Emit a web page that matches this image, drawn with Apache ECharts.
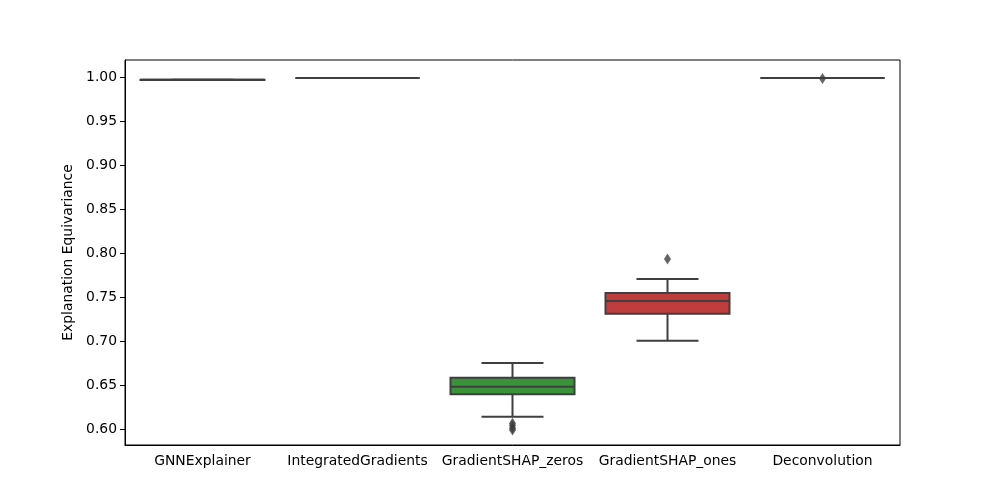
<!DOCTYPE html>
<html>
<head>
<meta charset="utf-8">
<script src="https://cdn.jsdelivr.net/npm/echarts@6/dist/echarts.min.js"></script>
<style>html,body{margin:0;padding:0;background:#fff}#c{width:1000px;height:500px}</style>
</head>
<body>
<div id="c"></div>
<script>
const categories = ['GNNExplainer', 'IntegratedGradients', 'GradientSHAP_zeros', 'GradientSHAP_ones', 'Deconvolution'];
const whiskerLow  = [0.9971, 0.9993, 0.6143, 0.7007, 0.9993];
const q1Values    = [0.9971, 0.9993, 0.6398, 0.7314, 0.9993];
const medians     = [0.9972, 0.9993, 0.6484, 0.7458, 0.9993];
const q3Values    = [0.9972, 0.9993, 0.6586, 0.7549, 0.9993];
const whiskerHigh = [0.9972, 0.9993, 0.6753, 0.7708, 0.9993];
const boxColors   = ['#3274a1', '#e1812c', '#3a923a', '#c03d3e', '#9372b2'];
const outlierCats = [2, 2, 2, 2, 3, 4];
const outlierVals = [0.6068, 0.6045, 0.6015, 0.5992, 0.7935, 0.9988];
const yTicks = [0.60, 0.65, 0.70, 0.75, 0.80, 0.85, 0.90, 0.95, 1.00];

const boxData = categories.map((c, i) => [i, whiskerLow[i], q1Values[i], medians[i], q3Values[i], whiskerHigh[i]]);
const outlierData = outlierCats.map((c, i) => [c, outlierVals[i]]);
const edge = '#3f3f3f';

const chart = echarts.init(document.getElementById('c'));
chart.setOption({
  animation: false,
  grid: { left: 125, right: 100, top: 60, bottom: 55, show: true, borderColor: '#000', borderWidth: 1, backgroundColor: 'transparent' },
  xAxis: {
    type: 'category', data: categories, boundaryGap: true,
    axisLine: { lineStyle: { color: '#000', width: 1 } },
    axisTick: { alignWithLabel: true, length: 5, lineStyle: { color: '#000' } },
    axisLabel: { interval: 0, hideOverlap: false, color: '#000', fontFamily: 'DejaVu Sans', fontSize: 13.9, margin: 9 },
    splitLine: { show: false }
  },
  yAxis: {
    type: 'value', min: 0.5822, max: 1.0197,
    name: 'Explanation Equivariance', nameLocation: 'middle', nameGap: 48, nameRotate: 90,
    nameTextStyle: { color: '#000', fontFamily: 'DejaVu Sans', fontSize: 13.9 },
    axisLine: { show: true, lineStyle: { color: '#000', width: 1 } },
    axisTick: { show: true, length: 5, customValues: yTicks, lineStyle: { color: '#000' } },
    axisLabel: { color: '#000', fontFamily: 'DejaVu Sans', fontSize: 13.9, margin: 8, customValues: yTicks, formatter: v => v.toFixed(2) },
    splitLine: { show: false }
  },
  series: [
    {
      type: 'custom',
      data: boxData,
      renderItem: function (params, api) {
        const i = api.value(0);
        const band = api.size([1, 0])[0];
        const boxW = band * 0.8;
        const capW = boxW / 2;
        const pMin = api.coord([i, api.value(1)]);
        const pQ1 = api.coord([i, api.value(2)]);
        const pMed = api.coord([i, api.value(3)]);
        const pQ3 = api.coord([i, api.value(4)]);
        const pMax = api.coord([i, api.value(5)]);
        const x = pMed[0];
        const ls = { stroke: edge, lineWidth: 2 };
        return {
          type: 'group',
          children: [
            { type: 'line', shape: { x1: x, y1: pQ1[1], x2: x, y2: pMin[1] }, style: ls },
            { type: 'line', shape: { x1: x, y1: pQ3[1], x2: x, y2: pMax[1] }, style: ls },
            { type: 'line', shape: { x1: x - capW / 2, y1: pMin[1], x2: x + capW / 2, y2: pMin[1] }, style: ls },
            { type: 'line', shape: { x1: x - capW / 2, y1: pMax[1], x2: x + capW / 2, y2: pMax[1] }, style: ls },
            { type: 'rect', shape: { x: x - boxW / 2, y: pQ3[1], width: boxW, height: pQ1[1] - pQ3[1] },
              style: { fill: boxColors[i], stroke: edge, lineWidth: 2 } },
            { type: 'line', shape: { x1: x - boxW / 2, y1: pMed[1], x2: x + boxW / 2, y2: pMed[1] }, style: ls }
          ]
        };
      }
    },
    {
      type: 'scatter',
      data: outlierData,
      symbol: 'diamond',
      symbolSize: [7, 11],
      itemStyle: { color: edge },
      z: 5
    }
  ]
});
</script>
</body>
</html>
